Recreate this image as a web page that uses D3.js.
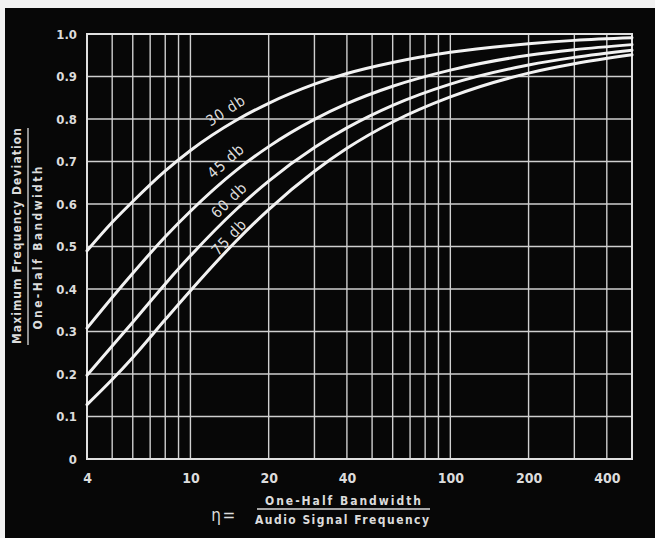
<!DOCTYPE html>
<html><head><meta charset="utf-8">
<script src="https://cdn.jsdelivr.net/npm/d3@7"></script>
<style>html,body{margin:0;padding:0;background:#fff;} svg{display:block;}</style>
</head><body>
<svg id="chart" width="655" height="538"></svg>
<script>
// ---- data ----
const eta  = [4, 5, 6, 8, 10, 15, 20, 30, 40, 60, 100, 200, 300, 500];
const db30 = [0.490, 0.557, 0.606, 0.678, 0.726, 0.797, 0.837, 0.882, 0.907, 0.933, 0.957, 0.977, 0.985, 0.991];
const db45 = [0.308, 0.380, 0.437, 0.523, 0.583, 0.679, 0.735, 0.799, 0.836, 0.877, 0.915, 0.950, 0.963, 0.975];
const db60 = [0.197, 0.266, 0.322, 0.412, 0.478, 0.587, 0.654, 0.733, 0.779, 0.832, 0.882, 0.927, 0.945, 0.962];
const db75 = [0.128, 0.187, 0.239, 0.328, 0.396, 0.513, 0.587, 0.677, 0.731, 0.793, 0.852, 0.908, 0.930, 0.951];
const seriesNames = ["30 db", "45 db", "60 db", "75 db"];
const labelEta = [13.7, 13.7, 14.1, 14.1];
const labelVal = [0.820, 0.701, 0.609, 0.522];
const xTickValues = [4, 10, 20, 40, 100, 200, 400];
const xGridValues = [5, 6, 7, 8, 9, 10, 20, 30, 40, 50, 60, 70, 80, 90, 100, 200, 300, 400];
const yTickValues = [0, 0.1, 0.2, 0.3, 0.4, 0.5, 0.6, 0.7, 0.8, 0.9, 1.0];
const yTitleTop = "Maximum Frequency Deviation";
const yTitleBottom = "One-Half Bandwidth";
const xTitleTop = "One-Half Bandwidth";
const xTitleBottom = "Audio Signal Frequency";

// ---- drawing ----
const svg = d3.select("#chart");
const W = 655, H = 538;
const BG = "#070707", GRID = "#cfcfcf", INK = "#dcdcdc", CURVE = "#f2f2f2";
const FONT = "'DejaVu Sans Condensed','DejaVu Sans',sans-serif";

svg.append("rect").attr("width", W).attr("height", H).attr("fill", "#f2f2f2");
svg.append("rect").attr("x", 5).attr("y", 8).attr("width", W - 5).attr("height", H - 8).attr("fill", BG);

const x = d3.scaleLog().domain([4, 500]).range([87, 632]);
const y = d3.scaleLinear().domain([0, 1]).range([459, 34]);

// grid
const grid = svg.append("g");
grid.selectAll("line.v").data(xGridValues).join("line")
  .attr("x1", d => x(d)).attr("x2", d => x(d))
  .attr("y1", y(0)).attr("y2", y(1))
  .attr("stroke", GRID).attr("stroke-width", 1.4);
grid.selectAll("line.h").data(yTickValues.slice(1, -1)).join("line")
  .attr("x1", x(4)).attr("x2", x(500))
  .attr("y1", d => y(d)).attr("y2", d => y(d))
  .attr("stroke", GRID).attr("stroke-width", 1.4);
svg.append("rect")
  .attr("x", x(4)).attr("y", y(1))
  .attr("width", x(500) - x(4)).attr("height", y(0) - y(1))
  .attr("fill", "none").attr("stroke", "#e0e0e0").attr("stroke-width", 2);

// curves
const allSeries = [db30, db45, db60, db75];
const line = d3.line().x(d => x(d[0])).y(d => y(d[1])).curve(d3.curveMonotoneX);
allSeries.forEach(vals => {
  svg.append("path")
    .attr("d", line(eta.map((e, i) => [e, vals[i]])))
    .attr("fill", "none").attr("stroke", CURVE).attr("stroke-width", 3)
    .attr("stroke-linecap", "round");
});

// curve labels (rotated along local slope)
function valueAt(vals, e) {
  const i = d3.bisectRight(eta, e) - 1;
  const t = (Math.log(e) - Math.log(eta[i])) / (Math.log(eta[i + 1]) - Math.log(eta[i]));
  return vals[i] + t * (vals[i + 1] - vals[i]);
}
allSeries.forEach((vals, k) => {
  const e = labelEta[k];
  const x0 = x(e / 1.1), x1 = x(e * 1.1);
  const y0 = y(valueAt(vals, e / 1.1)), y1 = y(valueAt(vals, e * 1.1));
  const ang = Math.atan2(y1 - y0, x1 - x0) * 180 / Math.PI;
  svg.append("text")
    .attr("transform", `translate(${x(e)},${y(labelVal[k])}) rotate(${ang})`)
    .attr("text-anchor", "middle").attr("dominant-baseline", "central")
    .attr("font-family", FONT).attr("font-size", 15).attr("letter-spacing", 1)
    .attr("fill", INK).text(seriesNames[k]);
});

// axes (labels only)
const xAxis = svg.append("g").attr("transform", `translate(0,${y(0)})`)
  .call(d3.axisBottom(x).tickValues(xTickValues).tickFormat(d3.format("d")).tickSize(0).tickPadding(14));
const yAxis = svg.append("g").attr("transform", `translate(${x(4)},0)`)
  .call(d3.axisLeft(y).tickValues(yTickValues).tickFormat(d => d === 0 ? "0" : d.toFixed(1)).tickSize(0).tickPadding(10));
[xAxis, yAxis].forEach(g => {
  g.select(".domain").remove();
  g.selectAll("text").attr("fill", INK).attr("font-family", FONT).attr("font-weight", "bold");
});
xAxis.selectAll("text").attr("font-size", 14);
yAxis.selectAll("text").attr("font-size", 13);

// y title (fraction, rotated)
const yt = svg.append("g");
yt.append("text").attr("transform", "translate(21,236) rotate(-90)")
  .attr("text-anchor", "middle").attr("font-family", FONT).attr("font-size", 12).attr("font-weight", "bold")
  .attr("textLength", 216).attr("lengthAdjust", "spacing").attr("fill", INK).text(yTitleTop);
yt.append("line").attr("x1", 28).attr("x2", 28).attr("y1", 128).attr("y2", 345)
  .attr("stroke", INK).attr("stroke-width", 1.3);
yt.append("text").attr("transform", "translate(42,248) rotate(-90)")
  .attr("text-anchor", "middle").attr("font-family", FONT).attr("font-size", 12).attr("font-weight", "bold")
  .attr("textLength", 163).attr("lengthAdjust", "spacing").attr("fill", INK).text(yTitleBottom);

// x title: eta = fraction
const xt = svg.append("g");
xt.append("text").attr("x", 216).attr("y", 521).attr("text-anchor", "middle")
  .attr("font-family", FONT).attr("font-size", 17).attr("fill", INK).text("η");
xt.append("text").attr("x", 229).attr("y", 521).attr("text-anchor", "middle")
  .attr("font-family", FONT).attr("font-size", 17).attr("fill", INK).text("=");
xt.append("text").attr("x", 343).attr("y", 505).attr("text-anchor", "middle")
  .attr("font-family", FONT).attr("font-size", 12).attr("font-weight", "bold")
  .attr("textLength", 156).attr("lengthAdjust", "spacing").attr("fill", INK).text(xTitleTop);
xt.append("line").attr("x1", 257).attr("x2", 430).attr("y1", 509).attr("y2", 509)
  .attr("stroke", INK).attr("stroke-width", 1.3);
xt.append("text").attr("x", 342).attr("y", 524).attr("text-anchor", "middle")
  .attr("font-family", FONT).attr("font-size", 12).attr("font-weight", "bold")
  .attr("textLength", 174).attr("lengthAdjust", "spacing").attr("fill", INK).text(xTitleBottom);
</script>
</body></html>
